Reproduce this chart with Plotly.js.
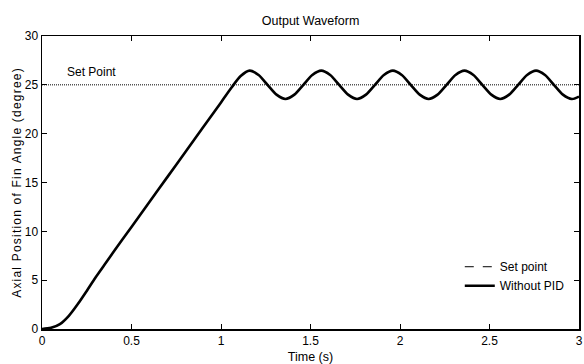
<!DOCTYPE html>
<html>
<head>
<meta charset="utf-8">
<script src="https://cdn.plot.ly/plotly-3.0.1.min.js"></script>
<style>html,body{margin:0;padding:0;background:#fff;}#chart{width:584px;height:364px;}</style>
</head>
<body>
<div id="chart"></div>
<script>
// ---- data ----
const timeS = [0, 0.05, 0.1, 0.15, 0.2, 0.25, 0.3, 0.35, 0.4, 0.5, 0.6, 0.7, 0.8, 0.9, 1.0,
  1.06, 1.11, 1.16, 1.21, 1.26, 1.31, 1.36, 1.41,
  1.46, 1.51, 1.56, 1.61, 1.66, 1.71, 1.76, 1.81,
  1.86, 1.91, 1.96, 2.01, 2.06, 2.11, 2.16, 2.21,
  2.26, 2.31, 2.36, 2.41, 2.46, 2.51, 2.56, 2.61,
  2.66, 2.71, 2.76, 2.81, 2.86, 2.91, 2.96, 3.0];
const withoutPID = [0, 0.12, 0.5, 1.35, 2.55, 3.9, 5.3, 6.6, 7.9, 10.45, 13.0, 15.55, 18.1, 20.65, 23.2,
  24.75, 25.9, 26.45, 26.0, 25.0, 24.0, 23.55, 24.0,
  25.0, 26.0, 26.45, 26.0, 25.0, 24.0, 23.55, 24.0,
  25.0, 26.0, 26.45, 26.0, 25.0, 24.0, 23.55, 24.0,
  25.0, 26.0, 26.45, 26.0, 25.0, 24.0, 23.55, 24.0,
  25.0, 26.0, 26.45, 26.0, 25.0, 24.0, 23.55, 23.8];
const setTime = [0, 3];
const setPoint = [25, 25];
const xTicks = [0, 0.5, 1, 1.5, 2, 2.5, 3];
const xTickText = ['0', '0.5', '1', '1.5', '2', '2.5', '3'];
const yTicks = [0, 5, 10, 15, 20, 25, 30];
const yTickText = ['0', '5', '10', '15', '20', '25', '30'];
const seriesNames = ['Set point', 'Without PID'];

const FONT = '"Liberation Sans", Arial, Helvetica, sans-serif';

const traces = [
  { x: setTime, y: setPoint, mode: 'lines', showlegend: false, hoverinfo: 'skip',
    line: { color: '#000', width: 1, dash: '1px,1px' } },
  { x: [null], y: [null], mode: 'lines', name: seriesNames[0],
    line: { color: '#000', width: 1, dash: 'dash' } },
  { x: timeS, y: withoutPID, mode: 'lines', name: seriesNames[1],
    line: { color: '#000', width: 2.6, shape: 'spline', smoothing: 0.8 } }
];

const axisCommon = {
  showgrid: false, zeroline: false, showline: true, linecolor: '#000', linewidth: 1.5,
  mirror: 'ticks', ticks: 'inside', ticklen: 5, tickwidth: 1, tickcolor: '#000',
  tickfont: { family: FONT, size: 12, color: '#000' }, tickmode: 'array'
};

const layout = {
  width: 584, height: 364,
  margin: { l: 42, r: 5, t: 36, b: 35, pad: 0 },
  paper_bgcolor: '#fff', plot_bgcolor: '#fff',
  font: { family: FONT, size: 12, color: '#000' },
  title: { text: 'Output Waveform', font: { family: FONT, size: 12.5, color: '#000' },
           x: 0.5318, xanchor: 'center', y: 0.943, yanchor: 'middle' },
  xaxis: Object.assign({}, axisCommon, {
    range: [0, 3], tickvals: xTicks, ticktext: xTickText,
    title: { text: 'Time (s)', font: { family: FONT, size: 12.5, color: '#000' }, standoff: 8 }
  }),
  yaxis: Object.assign({}, axisCommon, {
    range: [0, 30], tickvals: yTicks, ticktext: yTickText,
    title: { text: 'Axial Position of Fin Angle (degree)', font: { family: FONT, size: 12, color: '#000' }, standoff: 0 }
  }),
  showlegend: true,
  legend: { x: 0.778, y: 0.262, xanchor: 'left', yanchor: 'top', bgcolor: 'rgba(0,0,0,0)',
            borderwidth: 0, font: { family: FONT, size: 12, color: '#000' }, tracegroupgap: 0 },
  annotations: [
    { x: 0.279, y: 26.35, xref: 'x', yref: 'y', text: 'Set Point', showarrow: false,
      font: { family: FONT, size: 12, color: '#000' }, xanchor: 'center', yanchor: 'middle' }
  ]
};

Plotly.newPlot('chart', traces, layout, { displayModeBar: false, staticPlot: true }).then(function () {
  const yt = document.querySelector('#chart .ytitle');
  if (yt) { yt.style.letterSpacing = '1.2px'; }
});
</script>
</body>
</html>
